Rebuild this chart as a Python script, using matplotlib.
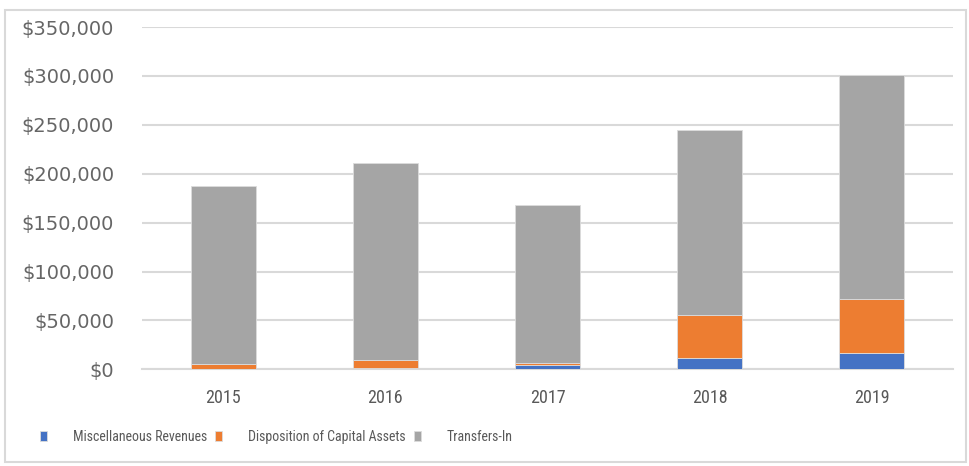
import matplotlib
matplotlib.use("Agg")
import matplotlib.pyplot as plt
import matplotlib.patches as mpatches
from matplotlib.ticker import FuncFormatter

# values
years = ['2015', '2016', '2017', '2018', '2019']
misc_revenues = [300, 1100, 4200, 12000, 17100]
disposition_assets = [5200, 8600, 2400, 43900, 55200]
transfers_in = [181500, 201300, 161400, 188600, 228700]

series_names = ['Miscellaneous Revenues', 'Disposition of Capital Assets', 'Transfers-In']
colors = ['#4472C4', '#ED7D31', '#A5A5A5']

text_gray = '#595959'
grid_gray = '#d9d9d9'
narrow = ['Roboto Condensed', 'Open Sans Condensed', 'Liberation Sans Narrow', 'DejaVu Sans']

fig = plt.figure(figsize=(9.69, 4.66), dpi=100)

# outer chart frame
fig.patches.append(mpatches.Rectangle((5 / 969, 4 / 466), 961 / 969, 452 / 466,
                                      transform=fig.transFigure, fill=False,
                                      edgecolor=grid_gray, linewidth=1.5))

ax = fig.add_axes([142 / 969, 96.6 / 466, 811 / 969, 342.4 / 466])

x = range(len(years))
bottom2 = [a for a in misc_revenues]
bottom3 = [a + b for a, b in zip(misc_revenues, disposition_assets)]

ax.bar(x, misc_revenues, width=0.4, color=colors[0], edgecolor='#dcdcdc', linewidth=0.6,
       label=series_names[0], zorder=3)
ax.bar(x, disposition_assets, width=0.4, bottom=bottom2, color=colors[1], edgecolor='#dcdcdc',
       linewidth=0.6, label=series_names[1], zorder=3)
ax.bar(x, transfers_in, width=0.4, bottom=bottom3, color=colors[2], edgecolor='#dcdcdc',
       linewidth=0.6, label=series_names[2], zorder=3)

ax.set_xlim(-0.5, len(years) - 0.5)
ax.set_ylim(0, 350000)
ax.set_yticks(range(0, 350001, 50000))
ax.yaxis.set_major_formatter(FuncFormatter(lambda v, p: '${:,.0f}'.format(v)))
ax.set_xticks(list(x))
ax.set_xticklabels(years)

ax.grid(axis='y', color=grid_gray, linewidth=1.5, zorder=0)
for side in ['top', 'right', 'left']:
    ax.spines[side].set_visible(False)
ax.spines['bottom'].set_color(grid_gray)
ax.spines['bottom'].set_linewidth(1.5)
ax.tick_params(axis='both', length=0)
ax.tick_params(axis='y', pad=20, labelsize=14, labelcolor='#666666')
ax.tick_params(axis='x', pad=14, labelsize=13, labelcolor=text_gray)
for lbl in ax.get_xticklabels():
    lbl.set_family(narrow)

leg = fig.legend(loc='center left', bbox_to_anchor=(40 / 969, 0.062), ncol=3, frameon=False,
                 borderpad=0, borderaxespad=0,
                 handlelength=0.5, handleheight=0.75, handletextpad=1.85, columnspacing=0.6,
                 prop={'family': narrow, 'size': 10})
for t in leg.get_texts():
    t.set_color(text_gray)

fig.savefig('out.png', dpi=100)
